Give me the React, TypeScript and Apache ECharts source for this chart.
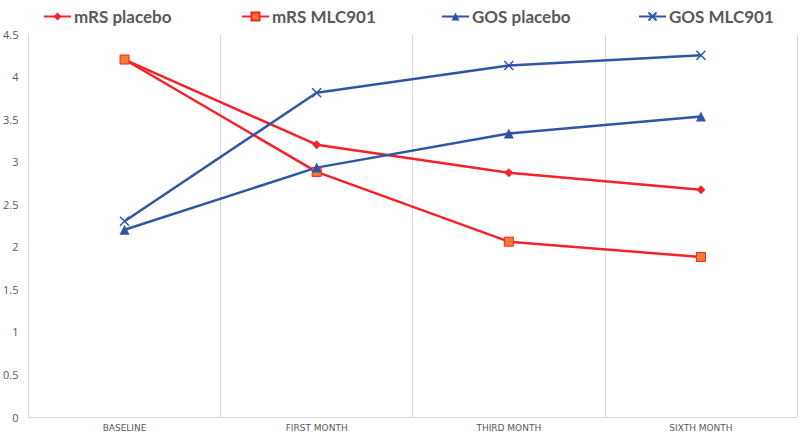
import React, { useEffect, useRef } from "react";
import * as echarts from "echarts";

const categories = ["BASELINE", "FIRST MONTH", "THIRD MONTH", "SIXTH MONTH"];
const mrsPlacebo = [4.2, 3.2, 2.87, 2.67];
const mrsMLC901 = [4.2, 2.88, 2.06, 1.88];
const gosPlacebo = [2.2, 2.93, 3.33, 3.53];
const gosMLC901 = [2.3, 3.81, 4.13, 4.25];
const seriesNames = ["mRS placebo", "mRS MLC901", "GOS placebo", "GOS MLC901"];

const RED = "#F5222A";
const BLUE = "#2F56A5";

export default function App() {
  const ref = useRef<HTMLDivElement>(null);
  useEffect(() => {
    const chart = echarts.init(ref.current!, null, { renderer: "svg" });
    const line = (name: string, data: number[], color: string, symbol: string, size: number, extra: any = {}) => ({
      name,
      type: "line",
      data,
      symbol,
      symbolSize: size,
      lineStyle: { color, width: 2.5 },
      itemStyle: { color, ...extra },
      color,
    });
    const legendLefts = [38, 236, 436, 633];
    chart.setOption({
      animation: false,
      backgroundColor: "#ffffff",
      legend: seriesNames.map((n, i) => ({
        top: 3,
        left: legendLefts[i],
        itemWidth: 27,
        itemHeight: 10,
        itemGap: 4,
        textStyle: { fontFamily: "Lato", fontWeight: "bold", fontSize: 17, color: "#595959", padding: [0, 0, 0, -2] },
        data: [n],
      })),
      grid: { left: 25, right: 3, top: 34, bottom: 17, containLabel: false },
      xAxis: {
        type: "category",
        data: categories,
        boundaryGap: true,
        axisLine: { lineStyle: { color: "#D9D9D9" } },
        axisTick: { show: false },
        splitLine: { show: true, lineStyle: { color: "#D9D9D9", width: 1 } },
        axisLabel: { color: "#595959", fontSize: 9, fontFamily: "DejaVu Sans", margin: 6 },
      },
      yAxis: {
        type: "value",
        min: 0,
        max: 4.5,
        interval: 0.5,
        axisLine: { show: true, lineStyle: { color: "#D9D9D9" } },
        axisTick: { show: false },
        splitLine: { show: false },
        axisLabel: { color: "#595959", fontSize: 11, fontFamily: "Open Sans", margin: 10 },
      },
      series: [
        line("mRS placebo", mrsPlacebo, RED, "diamond", 9),
        line("mRS MLC901", mrsMLC901, RED, "rect", 9, { color: "#ED7D31", borderColor: RED, borderWidth: 1 }),
        line("GOS placebo", gosPlacebo, BLUE, "triangle", 10),
        line("GOS MLC901", gosMLC901, BLUE, "path://M0,0L10,10M10,0L0,10", 9, { borderColor: BLUE, borderWidth: 1.5, color: "none" }),
      ],
    });
    return () => chart.dispose();
  }, []);
  return <div ref={ref} style={{ width: 800, height: 434, position: "absolute", left: 0, top: 0 }} />;
}
